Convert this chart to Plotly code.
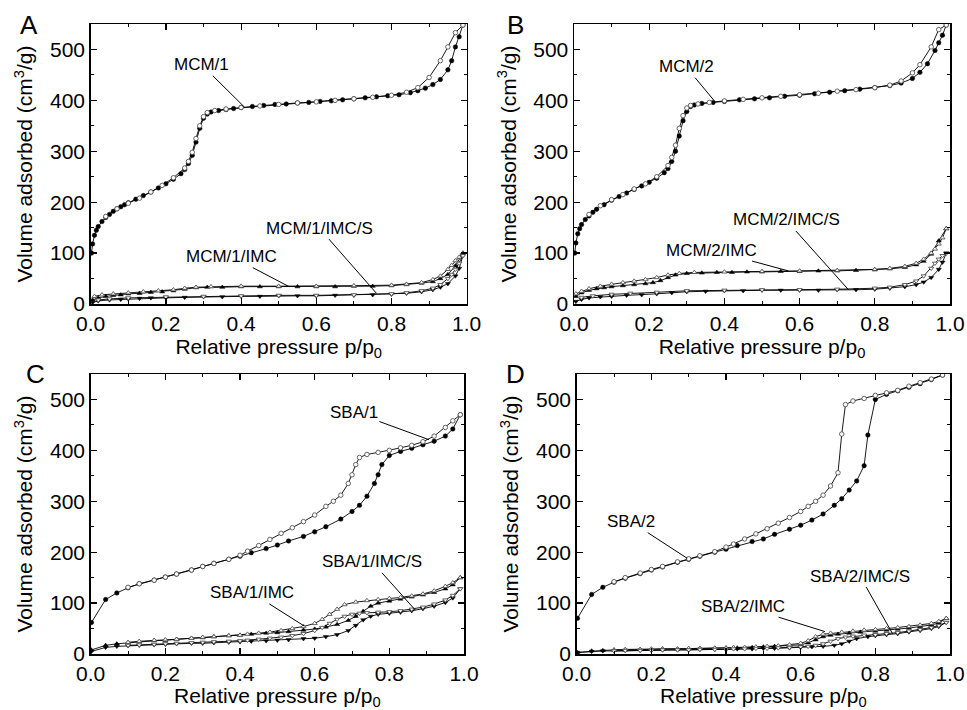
import plotly.graph_objects as go

# ---------------- DATA ----------------
# Panel A
mcm1_ads_x = [0.002, 0.005, 0.01, 0.015, 0.02, 0.03, 0.04, 0.05, 0.06, 0.07, 0.08, 0.09, 0.10, 0.12, 0.14, 0.16, 0.18, 0.20, 0.22, 0.24, 0.25, 0.26, 0.27, 0.28, 0.29, 0.30, 0.31, 0.32, 0.34, 0.36, 0.38, 0.40, 0.43, 0.46, 0.49, 0.52, 0.55, 0.58, 0.61, 0.64, 0.67, 0.70, 0.73, 0.76, 0.79, 0.82, 0.85, 0.87, 0.89, 0.91, 0.93, 0.95, 0.96, 0.97, 0.98, 0.99]
mcm1_ads_y = [100, 118, 135, 145, 152, 162, 170, 176, 182, 187, 191, 195, 199, 206, 213, 220, 228, 236, 245, 256, 264, 276, 292, 318, 345, 365, 373, 377, 380, 382, 384, 386, 388, 390, 392, 393, 395, 396, 398, 399, 401, 403, 405, 407, 409, 411, 415, 419, 424, 431, 441, 460, 478, 505, 525, 548]
mcm1_des_x = [0.99, 0.97, 0.95, 0.93, 0.90, 0.87, 0.84, 0.80, 0.75, 0.70, 0.65, 0.60, 0.55, 0.50, 0.45, 0.40, 0.36, 0.33, 0.31, 0.30, 0.29, 0.28, 0.27, 0.26, 0.25, 0.22, 0.19, 0.16, 0.13, 0.10, 0.07, 0.04]
mcm1_des_y = [548, 533, 505, 478, 445, 425, 416, 410, 406, 403, 400, 397, 395, 392, 389, 386, 383, 380, 376, 368, 350, 325, 298, 280, 267, 248, 233, 220, 208, 198, 187, 172]
mcm1imc_ads_x = [0.005, 0.02, 0.04, 0.06, 0.08, 0.10, 0.13, 0.16, 0.19, 0.22, 0.25, 0.28, 0.31, 0.35, 0.40, 0.45, 0.50, 0.55, 0.60, 0.65, 0.70, 0.75, 0.80, 0.84, 0.88, 0.91, 0.93, 0.95, 0.97, 0.99]
mcm1imc_ads_y = [8, 12, 15, 17, 18, 20, 21, 23, 24, 26, 29, 32, 33, 33, 34, 34, 34, 34, 34, 34, 35, 35, 36, 38, 41, 44, 50, 58, 75, 100]
mcm1imc_des_x = [0.99, 0.98, 0.97, 0.96, 0.95, 0.93, 0.91, 0.88, 0.84, 0.80, 0.70, 0.60, 0.50, 0.40, 0.32, 0.28, 0.25, 0.22, 0.18, 0.14, 0.10, 0.06, 0.03, 0.01]
mcm1imc_des_y = [100, 92, 85, 76, 68, 55, 48, 42, 39, 37, 36, 35, 35, 35, 34, 33, 31, 28, 26, 24, 22, 20, 18, 15]
mcm1imcs_ads_x = [0.005, 0.02, 0.05, 0.08, 0.10, 0.13, 0.16, 0.20, 0.25, 0.30, 0.35, 0.40, 0.45, 0.50, 0.55, 0.60, 0.65, 0.70, 0.75, 0.80, 0.84, 0.88, 0.91, 0.93, 0.95, 0.97, 0.98, 0.99]
mcm1imcs_ads_y = [3, 6, 8, 9, 10, 11, 12, 12, 13, 14, 14, 15, 15, 16, 16, 16, 17, 17, 18, 19, 21, 24, 28, 33, 40, 55, 70, 95]
mcm1imcs_des_x = [0.99, 0.98, 0.97, 0.96, 0.95, 0.93, 0.91, 0.88, 0.84, 0.80, 0.70, 0.60, 0.50, 0.40, 0.30, 0.20, 0.10, 0.05, 0.02]
mcm1imcs_des_y = [95, 80, 68, 58, 50, 38, 31, 26, 22, 20, 18, 17, 17, 16, 15, 14, 12, 10, 8]

# Panel B
mcm2_ads_x = [0.002, 0.005, 0.01, 0.015, 0.02, 0.03, 0.04, 0.05, 0.06, 0.08, 0.10, 0.12, 0.14, 0.16, 0.18, 0.20, 0.22, 0.24, 0.25, 0.26, 0.27, 0.28, 0.29, 0.30, 0.31, 0.32, 0.34, 0.37, 0.40, 0.44, 0.48, 0.52, 0.56, 0.60, 0.64, 0.68, 0.72, 0.76, 0.80, 0.84, 0.87, 0.90, 0.92, 0.94, 0.96, 0.97, 0.98, 0.99]
mcm2_ads_y = [100, 120, 138, 148, 156, 166, 173, 180, 186, 195, 204, 211, 218, 225, 232, 239, 247, 258, 266, 280, 300, 330, 360, 378, 388, 391, 394, 396, 398, 401, 403, 405, 408, 410, 413, 416, 419, 422, 425, 429, 434, 443, 455, 472, 498, 513, 528, 548]
mcm2_des_x = [0.99, 0.97, 0.95, 0.92, 0.90, 0.87, 0.84, 0.80, 0.75, 0.70, 0.65, 0.60, 0.55, 0.50, 0.45, 0.40, 0.36, 0.33, 0.31, 0.30, 0.29, 0.28, 0.27, 0.26, 0.25, 0.22, 0.19, 0.16, 0.13, 0.10, 0.07, 0.04]
mcm2_des_y = [548, 539, 505, 470, 454, 438, 430, 425, 421, 418, 414, 411, 408, 405, 402, 399, 396, 393, 390, 385, 370, 345, 312, 288, 272, 250, 236, 226, 215, 205, 193, 176]
mcm2imc_ads_x = [0.005, 0.02, 0.04, 0.06, 0.08, 0.10, 0.13, 0.16, 0.19, 0.21, 0.23, 0.25, 0.27, 0.30, 0.34, 0.38, 0.42, 0.46, 0.50, 0.55, 0.60, 0.65, 0.70, 0.75, 0.80, 0.84, 0.88, 0.91, 0.93, 0.95, 0.97, 0.99]
mcm2imc_ads_y = [15, 22, 27, 30, 32, 34, 36, 38, 40, 42, 46, 52, 57, 60, 61, 62, 62, 63, 63, 64, 64, 65, 65, 66, 67, 69, 72, 77, 84, 98, 124, 148]
mcm2imc_des_x = [0.99, 0.98, 0.97, 0.96, 0.95, 0.93, 0.91, 0.88, 0.84, 0.80, 0.70, 0.60, 0.50, 0.40, 0.32, 0.28, 0.25, 0.22, 0.19, 0.16, 0.13, 0.10, 0.07, 0.04, 0.02, 0.005]
mcm2imc_des_y = [148, 130, 118, 108, 100, 88, 80, 74, 70, 68, 66, 65, 64, 63, 62, 60, 57, 52, 48, 45, 42, 39, 35, 30, 25, 20]
mcm2imcs_ads_x = [0.005, 0.02, 0.04, 0.07, 0.10, 0.14, 0.18, 0.22, 0.26, 0.30, 0.35, 0.40, 0.45, 0.50, 0.55, 0.60, 0.65, 0.70, 0.75, 0.80, 0.84, 0.88, 0.91, 0.93, 0.95, 0.97, 0.98, 0.99]
mcm2imcs_ads_y = [5, 9, 12, 14, 15, 17, 18, 20, 22, 24, 25, 26, 26, 27, 27, 27, 27, 28, 28, 29, 31, 34, 38, 43, 52, 68, 82, 100]
mcm2imcs_des_x = [0.99, 0.98, 0.97, 0.96, 0.95, 0.93, 0.91, 0.88, 0.84, 0.80, 0.70, 0.60, 0.50, 0.40, 0.30, 0.22, 0.15, 0.10, 0.05, 0.02]
mcm2imcs_des_y = [100, 95, 88, 80, 70, 55, 45, 38, 33, 31, 29, 28, 28, 27, 26, 23, 21, 19, 16, 13]

# Panel C
sba1_ads_x = [0.002, 0.04, 0.07, 0.10, 0.13, 0.17, 0.20, 0.23, 0.27, 0.30, 0.33, 0.37, 0.40, 0.43, 0.47, 0.50, 0.53, 0.57, 0.60, 0.63, 0.67, 0.70, 0.72, 0.74, 0.76, 0.77, 0.78, 0.80, 0.83, 0.86, 0.89, 0.92, 0.95, 0.97, 0.99]
sba1_ads_y = [62, 107, 120, 130, 138, 145, 151, 157, 165, 172, 178, 186, 192, 199, 207, 214, 222, 231, 240, 250, 265, 280, 292, 310, 335, 352, 372, 390, 398, 404, 411, 418, 428, 442, 470]
sba1_des_x = [0.99, 0.97, 0.95, 0.92, 0.89, 0.86, 0.83, 0.80, 0.77, 0.74, 0.72, 0.71, 0.70, 0.69, 0.67, 0.65, 0.63, 0.60, 0.57, 0.54, 0.51, 0.48, 0.45, 0.42, 0.40, 0.37, 0.33, 0.30, 0.27, 0.23, 0.20, 0.17, 0.13, 0.10]
sba1_des_y = [470, 458, 445, 428, 417, 410, 405, 400, 396, 392, 386, 372, 352, 335, 312, 300, 290, 273, 260, 248, 237, 225, 213, 202, 194, 186, 178, 172, 165, 157, 151, 145, 138, 131]
sba1imc_ads_x = [0.002, 0.04, 0.07, 0.10, 0.13, 0.17, 0.20, 0.23, 0.27, 0.30, 0.33, 0.37, 0.40, 0.43, 0.47, 0.50, 0.53, 0.57, 0.60, 0.63, 0.66, 0.69, 0.71, 0.73, 0.75, 0.77, 0.80, 0.83, 0.86, 0.89, 0.92, 0.95, 0.97, 0.99]
sba1imc_ads_y = [8, 17, 20, 22, 24, 26, 27, 29, 31, 32, 34, 36, 37, 39, 41, 42, 44, 47, 49, 53, 58, 66, 74, 84, 94, 100, 104, 108, 112, 116, 121, 128, 136, 150]
sba1imc_des_x = [0.99, 0.97, 0.95, 0.92, 0.89, 0.86, 0.83, 0.80, 0.77, 0.74, 0.71, 0.68, 0.66, 0.64, 0.62, 0.60, 0.57, 0.54, 0.51, 0.48, 0.45, 0.42, 0.40, 0.37, 0.33, 0.30, 0.27, 0.23, 0.20, 0.17, 0.13, 0.10]
sba1imc_des_y = [150, 140, 133, 124, 118, 114, 111, 109, 107, 105, 102, 97, 88, 78, 68, 60, 54, 50, 46, 43, 41, 39, 37, 36, 34, 33, 31, 29, 28, 27, 25, 23]
sba1imcs_ads_x = [0.002, 0.04, 0.07, 0.10, 0.13, 0.17, 0.20, 0.23, 0.27, 0.30, 0.33, 0.37, 0.40, 0.43, 0.47, 0.50, 0.53, 0.57, 0.60, 0.63, 0.66, 0.69, 0.71, 0.73, 0.75, 0.77, 0.80, 0.83, 0.86, 0.89, 0.92, 0.95, 0.97, 0.99]
sba1imcs_ads_y = [5, 13, 15, 16, 17, 18, 19, 20, 21, 21, 22, 23, 24, 25, 26, 27, 28, 30, 31, 34, 38, 46, 56, 67, 74, 78, 80, 82, 85, 89, 94, 101, 110, 128]
sba1imcs_des_x = [0.99, 0.97, 0.95, 0.92, 0.89, 0.86, 0.83, 0.80, 0.77, 0.74, 0.72, 0.70, 0.68, 0.66, 0.64, 0.62, 0.60, 0.57, 0.54, 0.51, 0.48, 0.45, 0.42, 0.40, 0.37, 0.33, 0.30, 0.27, 0.23, 0.20, 0.17, 0.13, 0.10]
sba1imcs_des_y = [128, 115, 106, 98, 92, 88, 85, 83, 82, 81, 80, 78, 74, 68, 60, 52, 46, 40, 36, 33, 31, 29, 27, 26, 25, 24, 23, 22, 21, 20, 19, 18, 17]

# Panel D
sba2_ads_x = [0.002, 0.04, 0.07, 0.10, 0.13, 0.17, 0.20, 0.23, 0.27, 0.30, 0.33, 0.37, 0.40, 0.43, 0.47, 0.50, 0.53, 0.57, 0.60, 0.63, 0.66, 0.69, 0.71, 0.73, 0.75, 0.77, 0.78, 0.80, 0.83, 0.86, 0.89, 0.92, 0.95, 0.98]
sba2_ads_y = [70, 117, 131, 141, 149, 158, 165, 171, 180, 186, 192, 200, 206, 213, 221, 226, 235, 245, 253, 263, 275, 292, 305, 322, 340, 370, 430, 500, 510, 517, 524, 531, 539, 548]
sba2_des_x = [0.98, 0.95, 0.92, 0.89, 0.86, 0.83, 0.80, 0.77, 0.74, 0.72, 0.71, 0.70, 0.68, 0.66, 0.64, 0.62, 0.60, 0.57, 0.54, 0.51, 0.48, 0.45, 0.42, 0.40, 0.37, 0.33, 0.30, 0.27, 0.23, 0.20, 0.17, 0.13, 0.10]
sba2_des_y = [548, 540, 533, 526, 518, 513, 508, 502, 497, 490, 432, 356, 330, 312, 300, 290, 280, 268, 257, 246, 236, 226, 216, 210, 201, 193, 187, 181, 172, 166, 159, 150, 142]
sba2imc_ads_x = [0.002, 0.04, 0.07, 0.10, 0.13, 0.17, 0.20, 0.23, 0.27, 0.30, 0.33, 0.37, 0.40, 0.43, 0.47, 0.50, 0.53, 0.57, 0.60, 0.62, 0.64, 0.66, 0.68, 0.70, 0.73, 0.76, 0.80, 0.83, 0.86, 0.89, 0.92, 0.95, 0.97, 0.99]
sba2imc_ads_y = [3, 6, 7, 8, 8, 9, 9, 10, 10, 10, 11, 11, 12, 12, 13, 14, 15, 16, 18, 22, 28, 34, 37, 39, 41, 43, 45, 47, 49, 51, 54, 57, 61, 70]
sba2imc_des_x = [0.99, 0.97, 0.95, 0.92, 0.89, 0.86, 0.83, 0.80, 0.77, 0.74, 0.71, 0.68, 0.66, 0.64, 0.62, 0.60, 0.57, 0.54, 0.51, 0.48, 0.45, 0.42, 0.40, 0.37, 0.33, 0.30, 0.27, 0.23, 0.20, 0.17, 0.13, 0.10]
sba2imc_des_y = [70, 64, 60, 57, 54, 52, 50, 48, 47, 45, 43, 41, 39, 34, 26, 21, 18, 16, 15, 14, 13, 13, 12, 12, 11, 11, 10, 10, 10, 9, 9, 8]
sba2imcs_ads_x = [0.002, 0.04, 0.07, 0.10, 0.13, 0.17, 0.20, 0.23, 0.27, 0.30, 0.33, 0.37, 0.40, 0.43, 0.47, 0.50, 0.53, 0.57, 0.60, 0.63, 0.66, 0.69, 0.71, 0.73, 0.75, 0.78, 0.80, 0.83, 0.86, 0.89, 0.92, 0.95, 0.97, 0.99]
sba2imcs_ads_y = [3, 5, 6, 6, 7, 7, 7, 8, 8, 8, 9, 9, 9, 10, 10, 11, 11, 12, 13, 14, 15, 17, 20, 25, 30, 34, 36, 38, 40, 43, 46, 50, 54, 62]
sba2imcs_des_x = [0.99, 0.97, 0.95, 0.92, 0.89, 0.86, 0.83, 0.80, 0.77, 0.74, 0.72, 0.70, 0.68, 0.66, 0.64, 0.62, 0.60, 0.57, 0.54, 0.51, 0.48, 0.45, 0.42, 0.40, 0.37, 0.33, 0.30, 0.27, 0.23, 0.20, 0.17, 0.13, 0.10]
sba2imcs_des_y = [62, 56, 52, 48, 45, 42, 40, 38, 37, 35, 33, 30, 25, 20, 17, 15, 14, 13, 12, 11, 11, 10, 10, 9, 9, 9, 8, 8, 8, 7, 7, 7, 6]

panel_letters = ["A", "B", "C", "D"]
x_ticks = [0.0, 0.2, 0.4, 0.6, 0.8, 1.0]
y_ticks = [0, 100, 200, 300, 400, 500]

# label text, tip (x, y), text position (x, y)
labels = {
    1: [("MCM/1", 0.41, 386, 0.295, 470), ("MCM/1/IMC/S", 0.76, 21, 0.608, 149), ("MCM/1/IMC", 0.528, 34, 0.375, 93)],
    2: [("MCM/2", 0.371, 401, 0.298, 466), ("MCM/2/IMC/S", 0.73, 28, 0.564, 165), ("MCM/2/IMC", 0.57, 65, 0.366, 106)],
    3: [("SBA/1", 0.906, 421, 0.705, 475), ("SBA/1/IMC/S", 0.87, 86, 0.754, 181), ("SBA/1/IMC", 0.572, 55, 0.432, 120)],
    4: [("SBA/2", 0.296, 188, 0.145, 260), ("SBA/2/IMC", 0.665, 44, 0.446, 94), ("SBA/2/IMC/S", 0.846, 40, 0.759, 153)],
}

panels = {
    1: [(mcm1_ads_x, mcm1_ads_y, mcm1_des_x, mcm1_des_y, "circle"),
        (mcm1imc_ads_x, mcm1imc_ads_y, mcm1imc_des_x, mcm1imc_des_y, "triangle-up"),
        (mcm1imcs_ads_x, mcm1imcs_ads_y, mcm1imcs_des_x, mcm1imcs_des_y, "triangle-down")],
    2: [(mcm2_ads_x, mcm2_ads_y, mcm2_des_x, mcm2_des_y, "circle"),
        (mcm2imc_ads_x, mcm2imc_ads_y, mcm2imc_des_x, mcm2imc_des_y, "triangle-up"),
        (mcm2imcs_ads_x, mcm2imcs_ads_y, mcm2imcs_des_x, mcm2imcs_des_y, "triangle-down")],
    3: [(sba1_ads_x, sba1_ads_y, sba1_des_x, sba1_des_y, "circle"),
        (sba1imc_ads_x, sba1imc_ads_y, sba1imc_des_x, sba1imc_des_y, "triangle-up"),
        (sba1imcs_ads_x, sba1imcs_ads_y, sba1imcs_des_x, sba1imcs_des_y, "triangle-down")],
    4: [(sba2_ads_x, sba2_ads_y, sba2_des_x, sba2_des_y, "circle"),
        (sba2imc_ads_x, sba2imc_ads_y, sba2imc_des_x, sba2imc_des_y, "triangle-up"),
        (sba2imcs_ads_x, sba2imcs_ads_y, sba2imcs_des_x, sba2imcs_des_y, "triangle-down")],
}

# ---------------- LAYOUT ----------------
W, H = 967, 710
FONT = "Liberation Sans, Arial, sans-serif"
px_dom = {1: (90.7, 466.7), 2: (574, 950), 3: (90.7, 464), 4: (576.7, 950)}
py_dom = {1: (24, 304), 2: (24, 304), 3: (374, 654), 4: (374, 654)}
letter_pos = {1: (29, 25), 2: (515, 25), 3: (35, 374), 4: (515, 374)}

fig = go.Figure()
layout = dict(width=W, height=H, margin=dict(l=0, r=0, t=0, b=0, autoexpand=False), autosize=False,
              paper_bgcolor="white", plot_bgcolor="white", showlegend=False,
              font=dict(family=FONT, color="black"))
annotations = []

for k in range(1, 5):
    xa = "x" if k == 1 else f"x{k}"
    ya = "y" if k == 1 else f"y{k}"
    for (ax_, ay_, dx_, dy_, sym) in panels[k]:
        fig.add_trace(go.Scatter(x=ax_, y=ay_, xaxis=xa, yaxis=ya, mode="lines+markers",
                                 line=dict(color="black", width=0.9),
                                 marker=dict(symbol=sym, size=4.5, color="black",
                                             line=dict(color="black", width=0.5))))
        fig.add_trace(go.Scatter(x=dx_, y=dy_, xaxis=xa, yaxis=ya, mode="lines+markers",
                                 line=dict(color="black", width=0.9),
                                 marker=dict(symbol=sym, size=4.5, color="white",
                                             line=dict(color="#555555", width=0.9))))
    x0, x1 = px_dom[k]
    y0, y1 = py_dom[k]
    common = dict(showline=True, linecolor="black", linewidth=1.5, mirror="ticks",
                  ticks="inside", ticklen=6, tickwidth=1.2, tickcolor="black",
                  showgrid=False, zeroline=False, automargin=False,
                  tickfont=dict(family=FONT, size=21, color="black"))
    layout["xaxis" if k == 1 else f"xaxis{k}"] = dict(
        common, domain=[x0 / W, x1 / W], range=[0, 1.0], tickvals=x_ticks,
        ticktext=[f"{v:.1f}" for v in x_ticks],
        minor=dict(ticks="inside", ticklen=3, tickwidth=1, tickcolor="black", dtick=0.1, tick0=0),
        anchor=ya,
        title=dict(text="Relative pressure p/p<sub>0</sub>", font=dict(family=FONT, size=21), standoff=2))
    layout["yaxis" if k == 1 else f"yaxis{k}"] = dict(
        common, domain=[1 - y1 / H, 1 - y0 / H], range=[0, 550], tickvals=y_ticks,
        minor=dict(ticks="inside", ticklen=3, tickwidth=1, tickcolor="black", dtick=50, tick0=0),
        anchor=xa,
        title=dict(text="Volume adsorbed (cm<sup>3</sup>/g)", font=dict(family=FONT, size=21), standoff=11))
    for (txt, tx, ty, lx, ly) in labels[k]:
        annotations.append(dict(x=tx, y=ty, xref=xa, yref=ya, ax=lx, ay=ly, axref=xa, ayref=ya,
                                text=txt, showarrow=True, arrowhead=0, arrowwidth=1,
                                arrowcolor="black", standoff=0,
                                font=dict(family=FONT, size=17, color="black")))
    lxp, lyp = letter_pos[k]
    annotations.append(dict(x=lxp / W, y=1 - lyp / H, xref="paper", yref="paper",
                            xanchor="center", yanchor="middle",
                            text=panel_letters[k - 1], showarrow=False,
                            font=dict(family=FONT, size=26, color="black")))

layout["annotations"] = annotations
fig.update_layout(**layout)
fig.write_html("out.html", config={"displayModeBar": False, "staticPlot": True},
               post_script="document.body.style.margin='0';document.body.style.overflow='hidden';")
